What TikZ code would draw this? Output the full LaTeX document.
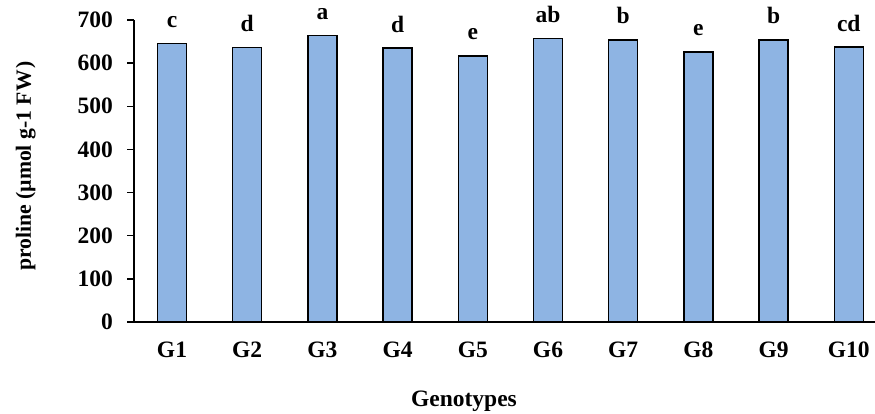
\documentclass[tikz,border=0pt]{standalone}
\usepackage{fontspec}
\setmainfont{Liberation Serif}
\usepackage{tikz}
\usetikzlibrary{positioning}
\definecolor{barblue}{RGB}{142,180,227}
\tikzset{
  valbar/.style={rectangle, draw, line width=1.5pt, fill=barblue, minimum width=29pt, inner sep=0pt, outer sep=0pt, anchor=south},
  chartfont/.style={font=\fontsize{23.5}{28}\selectfont\bfseries, inner sep=0pt}
}
\newcommand{\genobar}[3] {\node at ({38+(#1-1)*75.2},0) (G#1) [valbar, minimum height={#2*0.431429pt}] {};
  \node at ([yshift=16pt]G#1.north) (L#1) [chartfont, anchor=base] {#3};
  \node at ([yshift=-36pt]G#1.south) (N#1) [chartfont, anchor=base] {G#1};}

\begin{document}
\begin{tikzpicture}[x=1pt, y=1pt]
\useasboundingbox (-134,-92) rectangle (741,322);

\genobar {1}{645}{c};
\genobar {2}{636}{d};
\genobar {3}{664}{a};
\genobar {4}{635}{d};
\genobar {5}{617}{e};
\genobar {6}{657}{ab};
\genobar {7}{654}{b};
\genobar {8}{626}{e};
\genobar {9}{654}{b};
\genobar {10}{637}{cd};

\coordinate (O) at (0,0);
\coordinate (Ytop) at (0,302);
\coordinate (Xend) at (741,0);
\draw [line width=2pt] (Ytop) -- (O) -- (Xend);

\foreach \v in {0,100,...,700} {
  \coordinate (T\v) at (0,{\v*0.431429});
  \coordinate (Tk\v) at (-7,{\v*0.431429});
  \draw [line width=1.5pt] (T\v) -- (Tk\v);
  \node at ([xshift=-14pt]Tk\v) (Y\v) [chartfont, anchor=east] {\v};
}

\node at (330,-85) (xtitle) [chartfont, anchor=base] {Genotypes};
\node at (-103,156) (ytitle) [font=\fontsize{21.7}{26}\selectfont\bfseries, inner sep=0pt, rotate=90, anchor=base] {proline (µmol g-1 FW\kern2pt)};

%\node at (330,340) {};
\end{tikzpicture}
\end{document}
